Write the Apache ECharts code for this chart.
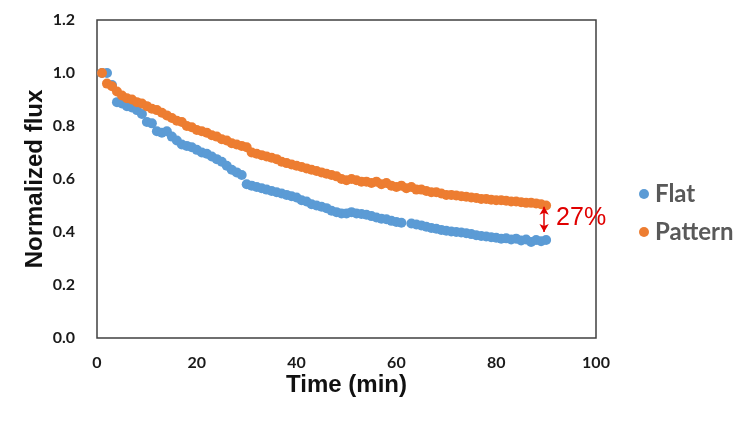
<!DOCTYPE html>
<html><head><meta charset="utf-8">
<script src="https://cdn.jsdelivr.net/npm/echarts@6/dist/echarts.min.js"></script>
<style>html,body{margin:0;padding:0;background:#fff}#c{width:750px;height:425px}</style>
</head><body><div id="c"></div>
<script>
const times = [1,2,3,4,5,6,7,8,9,10,11,12,13,14,15,16,17,18,19,20,21,22,23,24,25,26,27,28,29,30,31,32,33,34,35,36,37,38,39,40,41,42,43,44,45,46,47,48,49,50,51,52,53,54,55,56,57,58,59,60,61,62,63,64,65,66,67,68,69,70,71,72,73,74,75,76,77,78,79,80,81,82,83,84,85,86,87,88,89,90];
const flat = [1.00,1.00,0.955,0.89,0.885,0.875,0.87,0.86,0.845,0.815,0.81,0.78,0.775,0.78,0.76,0.745,0.73,0.725,0.72,0.71,0.70,0.695,0.685,0.675,0.665,0.65,0.635,0.625,0.615,0.58,0.575,0.57,0.565,0.56,0.555,0.55,0.545,0.54,0.535,0.53,0.52,0.515,0.505,0.50,0.495,0.49,0.48,0.475,0.47,0.47,0.475,0.47,0.468,0.465,0.46,0.455,0.45,0.448,0.442,0.438,0.435,null,0.432,0.428,0.425,0.42,0.415,0.412,0.408,0.405,0.402,0.40,0.398,0.395,0.392,0.388,0.385,0.383,0.38,0.378,0.375,0.376,0.372,0.375,0.368,0.372,0.362,0.37,0.365,0.37];
const pattern = [1.00,0.96,0.95,0.93,0.915,0.905,0.90,0.89,0.885,0.875,0.865,0.86,0.85,0.84,0.83,0.82,0.815,0.80,0.795,0.785,0.78,0.775,0.765,0.76,0.75,0.745,0.735,0.73,0.725,0.72,0.70,0.695,0.69,0.685,0.68,0.675,0.665,0.66,0.655,0.65,0.645,0.64,0.635,0.63,0.625,0.62,0.615,0.61,0.60,0.595,0.60,0.595,0.59,0.59,0.585,0.59,0.58,0.585,0.575,0.57,0.575,0.565,0.57,0.56,0.56,0.555,0.55,0.55,0.545,0.54,0.54,0.538,0.535,0.533,0.53,0.528,0.525,0.525,0.522,0.52,0.52,0.518,0.515,0.515,0.512,0.51,0.51,0.508,0.505,0.50];
const seriesNames = ['Flat','Pattern'];
const xTicks = [0,20,40,60,80,100];
const yTicks = [0,0.2,0.4,0.6,0.8,1.0,1.2];
const arrowTime = 89.6;
const arrowFrom = 0.495;
const arrowTo = 0.40;
const gapLabel = '27%';
const gapLabelPos = [92.0, 0.453];

const pairs = arr => times.map((t,i) => arr[i] == null ? null : [t, arr[i]]).filter(p => p);

const chart = echarts.init(document.getElementById('c'), null, {renderer:'canvas'});
chart.setOption({
  animation:false,
  backgroundColor:'#fff',
  grid:{left:97,right:154,top:20,bottom:87,show:true,borderColor:'#404040',borderWidth:1.5},
  legend:{
    orient:'vertical',left:634,top:177,itemGap:14,itemWidth:10,itemHeight:10,
    icon:'circle',data:seriesNames,
    textStyle:{fontFamily:'Lato',fontWeight:'bold',fontSize:24,lineHeight:24,color:'#595959',padding:[0,0,0,1]}
  },
  xAxis:{
    type:'value',min:0,max:100,interval:20,
    name:'Time (min)',nameLocation:'middle',nameGap:35,nameMoveOverlap:false,
    nameTextStyle:{fontFamily:'Liberation Sans',fontWeight:'bold',fontSize:24,color:'#111'},
    axisLine:{show:false},axisTick:{show:false},splitLine:{show:false},
    axisLabel:{margin:17,fontFamily:'Lato',fontWeight:'bold',fontSize:16,color:'#1a1a1a',
      formatter:v=>xTicks.includes(v)?String(v):''}
  },
  yAxis:{
    type:'value',min:0,max:1.2,interval:0.2,
    name:'Normalized flux',nameLocation:'middle',nameGap:50,nameMoveOverlap:false,
    nameTextStyle:{fontFamily:'Liberation Sans',fontWeight:'bold',fontSize:24,color:'#111'},
    axisLine:{show:false},axisTick:{show:false},splitLine:{show:false},
    axisLabel:{margin:22,fontFamily:'Lato',fontWeight:'bold',fontSize:16,color:'#1a1a1a',
      formatter:v=>{const m=yTicks.find(t=>Math.abs(t-v)<1e-6);return m===undefined?'':m.toFixed(1);}}
  },
  series:[
    {name:seriesNames[0],type:'scatter',symbolSize:10,itemStyle:{color:'#5B9BD5',opacity:1},data:pairs(flat)},
    {name:seriesNames[1],type:'scatter',symbolSize:10,itemStyle:{color:'#ED7D31',opacity:1},data:pairs(pattern),
      markLine:{silent:true,symbol:['arrow','arrow'],symbolSize:[7,8],
        lineStyle:{color:'#E00000',width:1.5,type:'solid'},label:{show:false},
        data:[[{coord:[arrowTime,arrowFrom]},{coord:[arrowTime,arrowTo]}]]},
      markPoint:{silent:true,symbol:'circle',symbolSize:0,
        data:[{coord:gapLabelPos,value:gapLabel}],
        label:{show:true,position:'right',distance:0,formatter:gapLabel,
          fontFamily:'Liberation Sans',fontSize:25,color:'#E00000'}}
    }
  ]
});
</script></body></html>
